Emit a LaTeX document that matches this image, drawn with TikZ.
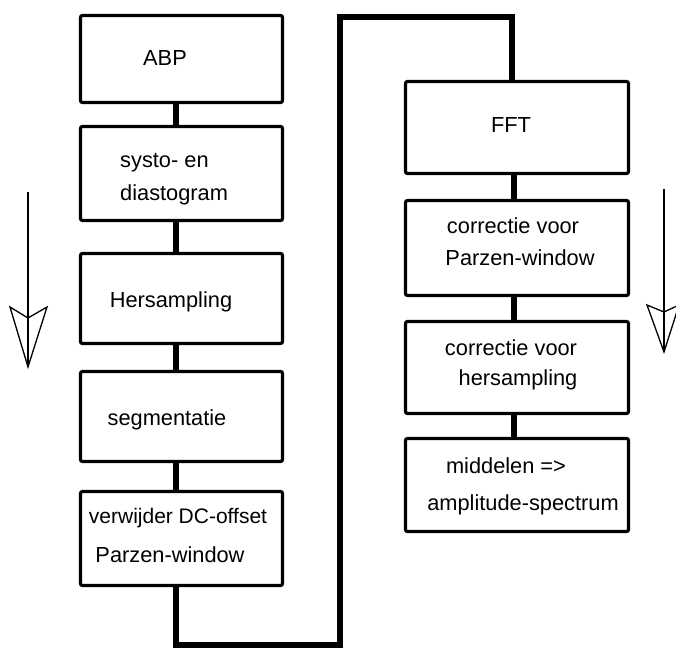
\documentclass[tikz,border=0pt]{standalone}
\usepackage{fontspec}
\setmainfont{Liberation Sans}
\begin{document}
\begin{tikzpicture}[x=1pt,y=-1pt,
  box/.style={draw,line width=3.2pt,rounded corners=2pt,inner sep=0pt,fill=white},
  lbox/.style={box,minimum width=202pt},
  rbox/.style={box,minimum width=223pt},
  txt/.style={inner sep=0pt,anchor=base,font=\fontsize{21.8}{26}\selectfont},
  txtl/.style={txt,anchor=base west},
  conn/.style={line width=6.5pt,line join=miter},
  flow/.style={line width=1.3pt,line join=miter}]
\useasboundingbox[fill=white] (0,0) rectangle (676,648);
% left column
\node[lbox,minimum height=87pt] (b1) at (181.5,59) {};
\node[lbox,minimum height=94pt] (b2) at (181.5,173.5) {};
\node[lbox,minimum height=90pt] (b3) at (181.5,298.5) {};
\node[lbox,minimum height=90pt] (b4) at (181.5,416.5) {};
\node[lbox,minimum height=94pt] (b5) at (181.5,538.5) {};
% right column
\node[rbox,minimum height=92pt] (r1) at (517,127.5) {};
\node[rbox,minimum height=95pt] (r2) at (517,248) {};
\node[rbox,minimum height=92pt] (r3) at (517,367.5) {};
\node[rbox,minimum height=93pt] (r4) at (517,485) {};
% connector guides
\coordinate (lc) at (176,0);
\coordinate (rc) at (514,0);
\coordinate (c1) at (176,645);
\coordinate (c2) at (340,645);
\coordinate (c3) at (340,17);
\coordinate (c4) at (512,17);
\draw[conn] (b1.south -| lc) -- (b2.north -| lc);
\draw[conn] (b2.south -| lc) -- (b3.north -| lc);
\draw[conn] (b3.south -| lc) -- (b4.north -| lc);
\draw[conn] (b4.south -| lc) -- (b5.north -| lc);
\draw[conn] (b5.south -| lc) -- (c1) -- (c2) -- (c3) -- (c4) -- (r1.north -| c4);
\draw[conn] (r1.south -| rc) -- (r2.north -| rc);
\draw[conn] (r2.south -| rc) -- (r3.north -| rc);
\draw[conn] (r3.south -| rc) -- (r4.north -| rc);
% texts
\node[txt] (t1) at (165,65) {ABP};
\node[txtl] (t2a) at (120,167) {systo- en};
\node[txtl] (t2b) at (120,200) {diastogram};
\node[txt] (t3) at (171,307) {Hersampling};
\node[txt] (t4) at (167,425) {segmentatie};
\node[txt,font=\fontsize{21}{25}\selectfont] (t5a) at (178,523) {verwijder DC-offset};
\node[txt] (t5b) at (170,562) {Parzen-window};
\node[txt] (u1) at (511,132) {FFT};
\node[txt] (u2a) at (513,233) {correctie voor};
\node[txt] (u2b) at (520,265) {Parzen-window};
\node[txt] (u3a) at (511,355) {correctie voor};
\node[txt] (u3b) at (518,385) {hersampling};
\node[txt] (u4a) at (506,473) {middelen =>};
\node[txt] (u4b) at (523,510) {amplitude-spectrum};
% direction arrows
\coordinate (la0) at (28,192);
\coordinate (la1) at (28,364);
\draw[flow] (la0) -- (la1);
\draw[flow] (28,367) -- (10,307) -- (28,318) -- (47,307) -- cycle;
\coordinate (ra0) at (664,189);
\coordinate (ra1) at (664,349);
\draw[flow] (ra0) -- (ra1);
\draw[flow] (664,352) -- (647,305) -- (664,312) -- (679,305) -- cycle;
\end{tikzpicture}
\end{document}
